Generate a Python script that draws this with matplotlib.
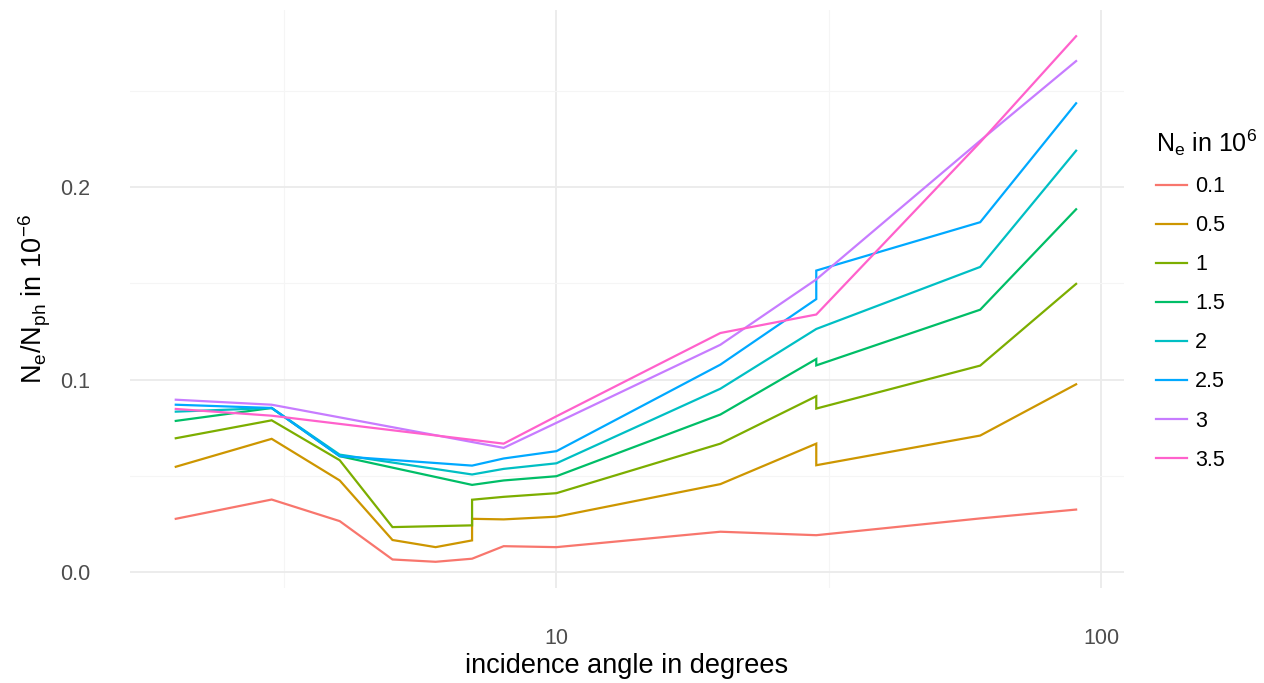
import matplotlib
matplotlib.use("Agg")
import matplotlib.pyplot as plt
from matplotlib.ticker import FixedLocator, NullFormatter

plt.rcParams["font.family"] = ["Liberation Sans", "DejaVu Sans"]
plt.rcParams["mathtext.fontset"] = "custom"
plt.rcParams["mathtext.rm"] = "Liberation Sans"
plt.rcParams["mathtext.it"] = "Liberation Sans"

# electron counts (in 10^6) and the measured ratios per incidence angle
levels = ["0.1", "0.5", "1", "1.5", "2", "2.5", "3", "3.5"]
colors = ["#F8766D", "#CD9600", "#7CAE00", "#00BE67",
          "#00BFC4", "#00A9FF", "#C77CFF", "#FF61CC"]

angle_01 = [2, 3, 4, 5, 6, 7, 8, 10, 20, 30, 60, 90]
ratio_01 = [0.0278, 0.0378, 0.0266, 0.0067, 0.0055, 0.0071, 0.0136, 0.0131,
            0.0211, 0.0193, 0.0280, 0.0326]

angle_05 = [2, 3, 4, 5, 6, 7, 7, 8, 10, 20, 30, 30, 60, 90]
ratio_05 = [0.0548, 0.0693, 0.0477, 0.0168, 0.0131, 0.0166, 0.0278, 0.0275,
            0.0289, 0.0458, 0.0668, 0.0556, 0.0710, 0.0976]

angle_1 = [2, 3, 4, 5, 7, 7, 8, 10, 20, 30, 30, 60, 90]
ratio_1 = [0.0696, 0.0789, 0.0582, 0.0235, 0.0244, 0.0377, 0.0392, 0.0411,
           0.0668, 0.0914, 0.0850, 0.1073, 0.1497]

angle_15 = [2, 3, 4, 7, 8, 10, 20, 30, 30, 60, 90]
ratio_15 = [0.0786, 0.0853, 0.0603, 0.0454, 0.0477, 0.0499, 0.0819, 0.1107,
            0.1074, 0.1363, 0.1884]

angle_2 = [2, 3, 4, 7, 8, 10, 20, 30, 60, 90]
ratio_2 = [0.0834, 0.0853, 0.0611, 0.0508, 0.0537, 0.0566, 0.0953, 0.1263,
           0.1585, 0.2188]

angle_25 = [2, 3, 4, 7, 8, 10, 20, 30, 30, 60, 90]
ratio_25 = [0.0870, 0.0853, 0.0603, 0.0554, 0.0591, 0.0629, 0.1078, 0.1418,
            0.1566, 0.1817, 0.2434]

angle_3 = [2, 3, 8, 10, 20, 30, 60, 90]
ratio_3 = [0.0896, 0.0870, 0.0646, 0.0776, 0.1181, 0.1520, 0.2240, 0.2653]

angle_35 = [2, 3, 8, 10, 20, 30, 60, 90]
ratio_35 = [0.0848, 0.0813, 0.0668, 0.0810, 0.1242, 0.1338, 0.2232, 0.2782]

angles = [angle_01, angle_05, angle_1, angle_15, angle_2, angle_25, angle_3, angle_35]
ratios = [ratio_01, ratio_05, ratio_1, ratio_15, ratio_2, ratio_25, ratio_3, ratio_35]

fig = plt.figure(figsize=(12.64, 6.83), dpi=100)
ax = fig.add_axes([129.7 / 1264, 1 - 588 / 683, (1124 - 129.7) / 1264, (588 - 10) / 683])

for lab, col, xs, ys in zip(levels, colors, angles, ratios):
    ax.plot(xs, ys, color=col, lw=1.6, label=lab, solid_joinstyle="miter")

ax.set_xscale("log")
ax.set_xlim(1.646, 110.2)
ax.set_ylim(-0.0081, 0.2918)

ax.xaxis.set_major_locator(FixedLocator([10, 100]))
ax.xaxis.set_minor_locator(FixedLocator([10 ** 0.5, 10 ** 1.5]))
ax.xaxis.set_minor_formatter(NullFormatter())
ax.set_xticks([10, 100], ["10", "100"])
ax.yaxis.set_major_locator(FixedLocator([0.0, 0.1, 0.2]))
ax.yaxis.set_minor_locator(FixedLocator([0.05, 0.15, 0.25]))
ax.set_yticks([0.0, 0.1, 0.2], ["0.0", "0.1", "0.2"])

ax.grid(which="major", color="#ebebeb", lw=1.3)
ax.grid(which="minor", color="#f5f5f5", lw=0.8)
ax.set_axisbelow(True)
for s in ax.spines.values():
    s.set_visible(False)
ax.tick_params(which="both", length=0, labelsize=15.5, labelcolor="#4d4d4d")
ax.tick_params(axis="x", pad=28.5)
ax.tick_params(axis="y", pad=28.5)

ax.set_xlabel("incidence angle in degrees", fontsize=19.5, labelpad=3)
ax.set_ylabel(r"$\mathregular{N_e/N_{ph}}$ in $\mathregular{10^{-6}}$", fontsize=19.5, labelpad=5)

leg = fig.legend(loc="upper left", bbox_to_anchor=(1137 / 1264, 1 - 108 / 683),
                 frameon=False, fontsize=15.5, title=r"$\mathregular{N_e}$ in $\mathregular{10^6}$",
                 title_fontsize=18, handlelength=1.44, labelspacing=0.84, handletextpad=0.35,
                 alignment="left")

fig.savefig("out.png", dpi=100)
